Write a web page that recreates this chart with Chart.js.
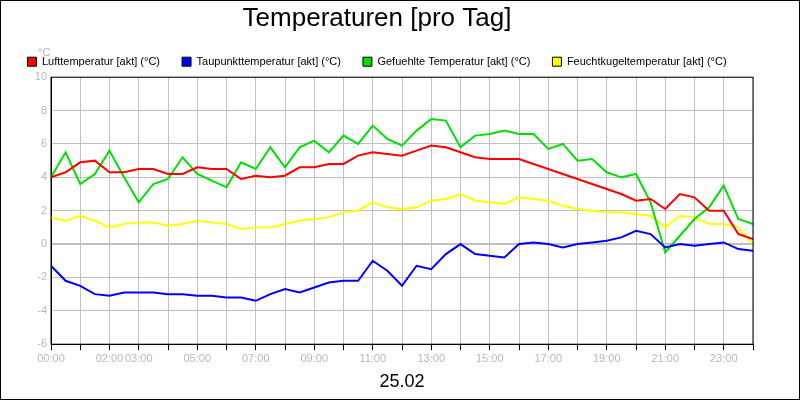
<!DOCTYPE html>
<html>
<head>
<meta charset="utf-8">
<script src="https://cdn.jsdelivr.net/npm/chart.js@4"></script>
<style>
  body { margin: 0; background: #fff; }
  #wrap { width: 798px; height: 398px; border: 1px solid #000; }
</style>
</head>
<body>
<div id="wrap"><canvas id="chart" width="798" height="398"></canvas></div>
<script>
// half-hour steps, 0..24
const hours = [];
for (let i = 0; i <= 48; i++) hours.push(i / 2);

const tickLabels = ['00:00', '02:00', '03:00', '05:00', '07:00', '09:00', '11:00', '13:00', '15:00', '17:00', '19:00', '21:00', '23:00'];

const luft = [4.0, 4.3, 4.9, 5.0, 4.3, 4.3, 4.5, 4.5, 4.2, 4.2, 4.6, 4.5, 4.5, 3.9, 4.1, 4.0, 4.1, 4.6, 4.6, 4.8, 4.8, 5.3, 5.5, 5.4, 5.3,
  5.6, 5.9, 5.8, 5.5, 5.2, 5.1, 5.1, 5.1, 4.8, 4.5, 4.2, 3.9, 3.6, 3.3, 3.0, 2.6, 2.7, 2.1, 3.0, 2.8, 2.0, 2.0, 0.6, 0.3];
const taupunkt = [-1.3, -2.2, -2.5, -3.0, -3.1, -2.9, -2.9, -2.9, -3.0, -3.0, -3.1, -3.1, -3.2, -3.2, -3.4, -3.0, -2.7, -2.9, -2.6, -2.3, -2.2, -2.2, -1.0, -1.6, -2.5,
  -1.3, -1.5, -0.6, 0.0, -0.6, -0.7, -0.8, 0.0, 0.1, 0.0, -0.2, 0.0, 0.1, 0.2, 0.4, 0.8, 0.6, -0.2, 0.0, -0.1, 0.0, 0.1, -0.3, -0.4];
const gefuehlt = [4.0, 5.5, 3.6, 4.2, 5.6, 4.0, 2.5, 3.6, 3.9, 5.2, 4.2, 3.8, 3.4, 4.9, 4.5, 5.8, 4.6, 5.8, 6.2, 5.5, 6.5, 6.0, 7.1, 6.3, 5.9,
  6.8, 7.5, 7.4, 5.8, 6.5, 6.6, 6.8, 6.6, 6.6, 5.7, 6.0, 5.0, 5.1, 4.3, 4.0, 4.2, 2.5, -0.5, 0.5, 1.5, 2.2, 3.5, 1.5, 1.2];
const feucht = [1.6, 1.4, 1.7, 1.4, 1.0, 1.2, 1.3, 1.3, 1.1, 1.2, 1.4, 1.3, 1.2, 0.9, 1.0, 1.0, 1.2, 1.4, 1.5, 1.6, 1.9, 2.0, 2.5, 2.2, 2.1,
  2.2, 2.6, 2.7, 3.0, 2.6, 2.5, 2.4, 2.8, 2.7, 2.6, 2.3, 2.1, 2.0, 1.9, 1.9, 1.8, 1.7, 1.0, 1.7, 1.6, 1.2, 1.2, 1.0, 0.0];

function pts(arr) {
  return arr.map((v, i) => ({ x: hours[i], y: v }));
}

function series(label, arr, color) {
  return { label: label, data: pts(arr), borderColor: color, backgroundColor: color, borderWidth: 2, pointRadius: 0, tension: 0 };
}

const extras = {
  id: 'extras',
  afterDraw(chart) {
    const c = chart.ctx, a = chart.chartArea;
    c.save();
    c.strokeStyle = '#000';
    c.lineWidth = 1;
    c.strokeRect(a.left, a.top, a.right - a.left, a.bottom - a.top);
    c.fillStyle = '#b0b0b0';
    c.font = '11px Arial, "Liberation Sans"';
    c.textAlign = 'left';
    c.fillText('°C', 37, 52);
    c.restore();
  }
};

new Chart(document.getElementById('chart'), {
  type: 'line',
  data: {
    datasets: [
      series('Lufttemperatur [akt] (°C)', luft, '#ff0000'),
      series('Taupunkttemperatur [akt] (°C)', taupunkt, '#0000ff'),
      series('Gefuehlte Temperatur [akt] (°C)', gefuehlt, '#00e000'),
      series('Feuchtkugeltemperatur [akt] (°C)', feucht, '#ffff00')
    ]
  },
  options: {
    responsive: false,
    animation: false,
    layout: { padding: { left: 0, right: 46, top: 0, bottom: 6 } },
    plugins: {
      title: {
        display: true, text: 'Temperaturen [pro Tag]', color: '#000',
        font: { family: 'Arial, "Liberation Sans"', size: 26, weight: 'normal' },
        padding: { top: 2, bottom: 0 }
      },
      legend: {
        labels: {
          color: '#000', boxWidth: 9, boxHeight: 9, padding: 22,
          font: { family: 'Arial, "Liberation Sans"', size: 11 },
          generateLabels(chart) {
            return chart.data.datasets.map((d, i) => ({
              text: d.label, fillStyle: d.borderColor, strokeStyle: '#000', lineWidth: 1, datasetIndex: i
            }));
          }
        }
      },
      tooltip: { enabled: false }
    },
    scales: {
      x: {
        type: 'linear', min: 0, max: 24,
        afterBuildTicks(scale) {
          scale.ticks = hours.filter(h => Number.isInteger(h)).map(h => ({ value: h }));
        },
        ticks: {
          autoSkip: false, maxRotation: 0, color: '#b8b8b8', padding: 2,
          font: { family: 'Arial, "Liberation Sans"', size: 11 },
          callback(v) {
            const s = String(v).padStart(2, '0') + ':00';
            return tickLabels.includes(s) ? s : '';
          }
        },
        grid: { color: '#c0c0c0', tickLength: 6, tickColor: '#000' },
        border: { color: '#000' },
        title: {
          display: true, text: '25.02', color: '#000',
          font: { family: 'Arial, "Liberation Sans"', size: 18 }, padding: { top: 4, bottom: 0 }
        }
      },
      y: {
        min: -6, max: 10,
        afterFit(scale) { scale.width = 50; },
        ticks: {
          stepSize: 2, color: '#b8b8b8', padding: 4,
          font: { family: 'Arial, "Liberation Sans"', size: 11 }
        },
        grid: {
          color: '#c0c0c0', tickLength: 0,
          lineWidth: ctx => (ctx.tick && ctx.tick.value === 0 ? 2 : 1)
        },
        border: { color: '#000' }
      }
    }
  },
  plugins: [extras]
});
</script>
</body>
</html>
